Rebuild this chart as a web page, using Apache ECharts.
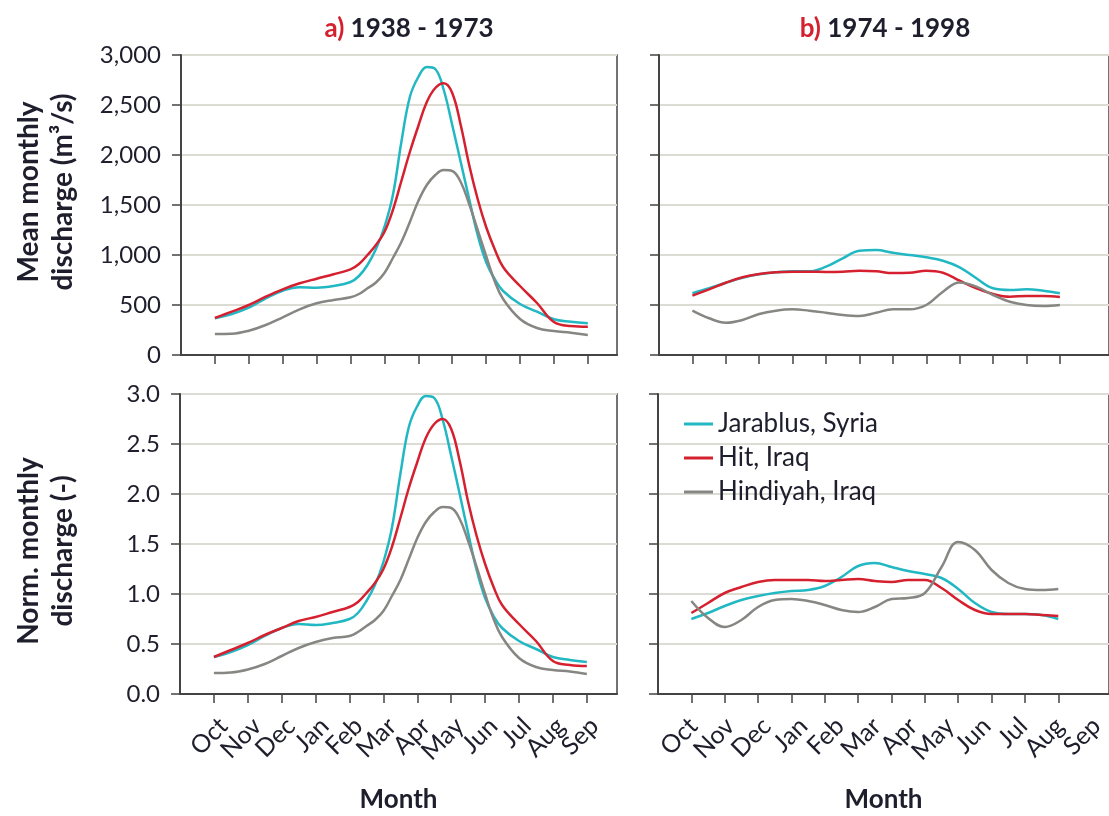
<!DOCTYPE html>
<html>
<head>
    <meta charset="utf-8">
    <script src="https://cdn.jsdelivr.net/npm/echarts@6/dist/echarts.min.js"></script>
</head>
<body style="margin:0">
    <div id="main" style="width: 1109px;height:816px;"></div>
    <script type="text/javascript">
        // month labels (water year Oct - Sep)
        var months = ['Oct', 'Nov', 'Dec', 'Jan', 'Feb', 'Mar', 'Apr', 'May', 'Jun', 'Jul', 'Aug', 'Sep'];
        var seriesNames = ['Jarablus, Syria', 'Hit, Iraq', 'Hindiyah, Iraq'];

        // x positions (in months from Oct) where values were read
        var xA = [0, 0.5, 1, 1.5, 2, 2.5, 3, 3.5, 4, 4.25, 4.5, 4.75, 5, 5.25, 5.5, 5.75, 6, 6.25, 6.5, 6.75, 7, 7.25, 7.5, 7.75, 8, 8.25, 8.5, 9, 9.5, 10, 10.5, 11];
        var xB = [0, 0.5, 1, 1.5, 2, 2.5, 3, 3.5, 4, 4.5, 5, 5.5, 6, 6.5, 7, 7.5, 8, 8.5, 9, 9.5, 10, 10.5, 11];

        // a) 1938 - 1973, mean monthly discharge (m3/s)
        var jarablusA = [367, 410, 473, 567, 643, 677, 673, 690, 730, 790, 900, 1060, 1280, 1600, 2130, 2580, 2780, 2880, 2860, 2650, 2300, 1930, 1560, 1200, 930, 760, 640, 510, 433, 357, 333, 317];
        var hitA = [370, 433, 500, 583, 657, 717, 763, 807, 857, 910, 1000, 1100, 1230, 1450, 1740, 2030, 2290, 2530, 2670, 2717, 2620, 2300, 1900, 1560, 1280, 1060, 880, 690, 520, 330, 290, 283];
        var hindiyahA = [210, 213, 243, 300, 377, 457, 517, 550, 577, 610, 667, 725, 820, 970, 1130, 1330, 1540, 1700, 1800, 1850, 1840, 1730, 1510, 1250, 990, 740, 560, 360, 270, 240, 223, 200];

        // b) 1974 - 1998, mean monthly discharge (m3/s)
        var jarablusB = [617, 667, 723, 773, 807, 827, 837, 837, 883, 967, 1043, 1050, 1023, 1000, 977, 943, 877, 767, 667, 650, 657, 643, 617];
        var hitB = [593, 657, 723, 777, 810, 827, 833, 833, 830, 833, 843, 837, 820, 823, 843, 823, 743, 667, 610, 583, 590, 590, 580];
        var hindiyahB = [443, 367, 323, 350, 410, 443, 457, 443, 423, 400, 390, 423, 457, 457, 500, 633, 725, 683, 600, 533, 500, 490, 500];

        // a) 1938 - 1973, normalised monthly discharge (-)
        var jarablusC = [0.37, 0.42, 0.49, 0.58, 0.66, 0.70, 0.69, 0.71, 0.75, 0.81, 0.93, 1.09, 1.32, 1.66, 2.20, 2.67, 2.88, 2.98, 2.96, 2.74, 2.38, 2.00, 1.61, 1.24, 0.96, 0.78, 0.66, 0.53, 0.45, 0.37, 0.34, 0.32];
        var hitC = [0.37, 0.44, 0.51, 0.59, 0.66, 0.73, 0.77, 0.82, 0.87, 0.92, 1.01, 1.11, 1.25, 1.47, 1.76, 2.06, 2.32, 2.56, 2.70, 2.75, 2.65, 2.33, 1.92, 1.58, 1.30, 1.07, 0.89, 0.70, 0.53, 0.33, 0.29, 0.28];
        var hindiyahC = [0.21, 0.215, 0.245, 0.30, 0.38, 0.46, 0.52, 0.56, 0.58, 0.62, 0.68, 0.74, 0.83, 0.98, 1.14, 1.35, 1.56, 1.72, 1.82, 1.87, 1.86, 1.75, 1.53, 1.27, 1.00, 0.75, 0.57, 0.36, 0.27, 0.24, 0.225, 0.20];

        // b) 1974 - 1998, normalised monthly discharge (-)
        var jarablusD = [0.75, 0.81, 0.88, 0.94, 0.98, 1.01, 1.03, 1.04, 1.08, 1.17, 1.28, 1.31, 1.27, 1.23, 1.20, 1.16, 1.05, 0.91, 0.82, 0.80, 0.80, 0.79, 0.75];
        var hitD = [0.81, 0.91, 1.01, 1.07, 1.12, 1.14, 1.14, 1.14, 1.13, 1.14, 1.15, 1.13, 1.12, 1.14, 1.14, 1.06, 0.94, 0.84, 0.80, 0.80, 0.80, 0.79, 0.78];
        var hindiyahD = [0.93, 0.76, 0.67, 0.74, 0.87, 0.94, 0.95, 0.93, 0.89, 0.84, 0.82, 0.87, 0.95, 0.96, 1.01, 1.27, 1.52, 1.44, 1.24, 1.11, 1.05, 1.04, 1.05];

        var colors = ['#22b8c3', '#d5212f', '#868682'];
        var font = 'Lato';
        var axisColor = '#444';
        var textColor = '#1e1e2c';

        function pairs(xs, ys) {
            return xs.map(function (x, i) { return [x, ys[i]]; });
        }

        var tickVals = [0, 1, 2, 3, 4, 5, 6, 7, 8, 9, 10, 11];

        function xAxisFor(idx, max, showName) {
            return {
                type: 'value', gridIndex: idx, min: -1, max: max,
                splitLine: { show: false },
                axisLine: { onZero: false, lineStyle: { color: axisColor, width: 2 } },
                axisTick: { customValues: tickVals, length: 9, lineStyle: { color: axisColor, width: 1.5 } },
                axisLabel: { show: false },
                name: showName ? 'Month' : '', nameLocation: 'middle', nameGap: 93,
                nameTextStyle: { fontFamily: font, fontSize: 26, fontWeight: 'bold', color: textColor }
            };
        }

        // category axis used only for the rotated month labels (all shown, none hidden)
        function labelAxisFor(idx) {
            return {
                type: 'category', gridIndex: idx, data: months, boundaryGap: false,
                axisLine: { show: false }, axisTick: { show: false }, splitLine: { show: false },
                axisLabel: { interval: 0, rotate: 45, margin: 28, fontFamily: font, fontSize: 25, color: textColor }
            };
        }

        function yAxisFor(idx, max, interval, labels, decimals) {
            return {
                type: 'value', gridIndex: idx, min: 0, max: max, interval: interval,
                axisLine: { show: true, onZero: false, lineStyle: { color: axisColor, width: 2 } },
                axisTick: { show: true, length: 9, lineStyle: { color: axisColor, width: 1.5 } },
                splitLine: { lineStyle: { color: '#dcdcd4', width: 2 } },
                axisLabel: {
                    show: labels, margin: 20, fontFamily: font, fontSize: 24, color: textColor,
                    showMinLabel: true, showMaxLabel: true,
                    formatter: function (v) {
                        return decimals ? v.toFixed(decimals) : v.toLocaleString('en-US');
                    }
                }
            };
        }

        function hiddenYAxis(idx) {
            return { type: 'value', gridIndex: idx, show: false, min: 0, max: 1 };
        }

        function lineSeries(name, idx, xs, ys, colorIdx) {
            return {
                name: name, type: 'line', xAxisIndex: idx, yAxisIndex: idx,
                data: pairs(xs, ys), smooth: 0.4, showSymbol: false,
                lineStyle: { color: colors[colorIdx], width: 2.5 },
                itemStyle: { color: colors[colorIdx] }
            };
        }

        var gridStyle = { show: true, borderColor: axisColor, borderWidth: 1.5, backgroundColor: 'transparent' };
        var titleStyle = {
            fontFamily: font, fontSize: 26, fontWeight: 'bold', color: textColor,
            rich: { r: { fontFamily: font, fontSize: 26, fontWeight: 'bold', color: '#d5212f' } }
        };

        var myChart = echarts.init(document.getElementById('main'));
        myChart.setOption({
            animation: false,
            title: [
                { text: '{r|a)} 1938 - 1973', left: 404, top: 11, textAlign: 'center', textStyle: titleStyle },
                { text: '{r|b)} 1974 - 1998', left: 880, top: 11, textAlign: 'center', textStyle: titleStyle }
            ],
            legend: {
                data: seriesNames, orient: 'vertical', left: 679, top: 406,
                icon: 'rect', itemWidth: 29, itemHeight: 3, itemGap: 8,
                textStyle: { fontFamily: font, fontSize: 26, color: textColor }
            },
            grid: [
                Object.assign({ left: 181, top: 55, width: 436, height: 300 }, gridStyle),
                Object.assign({ left: 659, top: 55, width: 470, height: 300 }, gridStyle),
                Object.assign({ left: 180, top: 394, width: 437, height: 300 }, gridStyle),
                Object.assign({ left: 658, top: 394, width: 470, height: 300 }, gridStyle),
                // label-only grids, placed where the original's month labels sit
                { left: 223.5, top: 394, width: 371, height: 300 },
                { left: 693.5, top: 394, width: 403, height: 300 }
            ],
            xAxis: [
                xAxisFor(0, 11.86, false),
                xAxisFor(1, 12.47, false),
                xAxisFor(2, 11.89, true),
                xAxisFor(3, 12.52, true),
                labelAxisFor(4),
                labelAxisFor(5)
            ],
            yAxis: [
                yAxisFor(0, 3000, 500, true, 0),
                yAxisFor(1, 3000, 500, false, 0),
                yAxisFor(2, 3, 0.5, true, 1),
                yAxisFor(3, 3, 0.5, false, 1),
                hiddenYAxis(4),
                hiddenYAxis(5)
            ],
            graphic: [
                { type: 'text', x: 46, y: 192, rotation: Math.PI / 2,
                  style: { text: 'Mean monthly\ndischarge (m³/s)', font: 'bold 28px Lato', fill: textColor,
                           align: 'center', verticalAlign: 'middle', textAlign: 'center', textVerticalAlign: 'middle', lineHeight: 34 } },
                { type: 'text', x: 46, y: 551, rotation: Math.PI / 2,
                  style: { text: 'Norm. monthly\ndischarge (-)', font: 'bold 28px Lato', fill: textColor,
                           align: 'center', verticalAlign: 'middle', textAlign: 'center', textVerticalAlign: 'middle', lineHeight: 34 } }
            ],
            series: [
                lineSeries(seriesNames[0], 0, xA, jarablusA, 0),
                lineSeries(seriesNames[1], 0, xA, hitA, 1),
                lineSeries(seriesNames[2], 0, xA, hindiyahA, 2),
                lineSeries(seriesNames[0], 1, xB, jarablusB, 0),
                lineSeries(seriesNames[1], 1, xB, hitB, 1),
                lineSeries(seriesNames[2], 1, xB, hindiyahB, 2),
                lineSeries(seriesNames[0], 2, xA, jarablusC, 0),
                lineSeries(seriesNames[1], 2, xA, hitC, 1),
                lineSeries(seriesNames[2], 2, xA, hindiyahC, 2),
                lineSeries(seriesNames[0], 3, xB, jarablusD, 0),
                lineSeries(seriesNames[1], 3, xB, hitD, 1),
                lineSeries(seriesNames[2], 3, xB, hindiyahD, 2)
            ]
        });
    </script>
</body>
</html>
